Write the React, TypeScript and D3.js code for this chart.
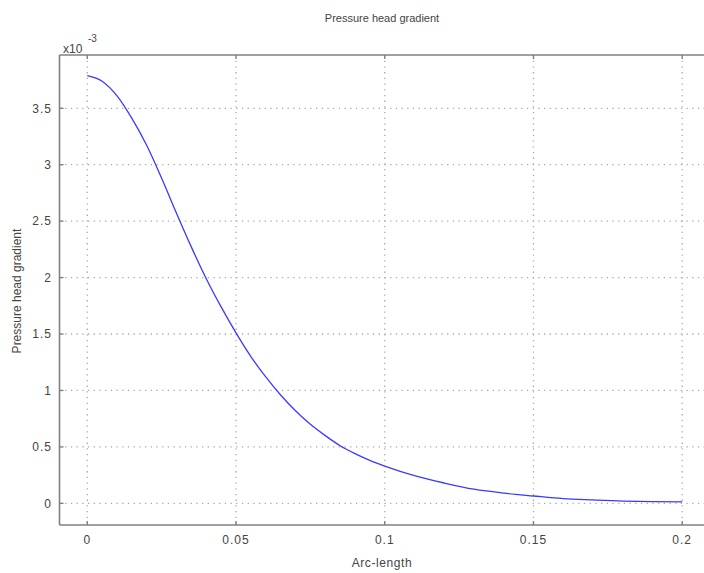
import React from 'react';
import * as d3 from 'd3';

// arc-length samples and pressure head gradient (in units of 1e-3)
const arcLength = [
  0, 0.005, 0.01, 0.015, 0.02, 0.025, 0.03, 0.035, 0.04, 0.045, 0.05,
  0.055, 0.06, 0.065, 0.07, 0.075, 0.08, 0.085, 0.09, 0.095, 0.1,
  0.11, 0.12, 0.13, 0.14, 0.15, 0.16, 0.17, 0.18, 0.19, 0.2,
];
const gradient = [
  3.79, 3.74, 3.61, 3.41, 3.17, 2.88, 2.57, 2.27, 1.99, 1.74, 1.51,
  1.3, 1.12, 0.96, 0.82, 0.7, 0.6, 0.51, 0.44, 0.38, 0.33,
  0.245, 0.18, 0.125, 0.09, 0.065, 0.042, 0.03, 0.02, 0.015, 0.012,
];
const xTicks = [0, 0.05, 0.1, 0.15, 0.2];
const xTickLabels = ['0', '0.05', '0.1', '0.15', '0.2'];
const yTicks = [0, 0.5, 1, 1.5, 2, 2.5, 3, 3.5];
const yTickLabels = ['0', '0.5', '1', '1.5', '2', '2.5', '3', '3.5'];

const W = 704;
const H = 573;
const FONT = "'Liberation Sans', Arial, sans-serif";
const TEXT = '#444';
const AXIS = '#808080';
const GRID = '#aaaaaa';

export default function App() {
  const x = d3.scaleLinear().domain([-0.00934, 0.208]).range([59.5, 706]);
  const y = d3.scaleLinear().domain([-0.192, 3.972]).range([525, 55]);

  const points = arcLength.map((a, i) => [a, gradient[i]] as [number, number]);
  const line = d3
    .line<[number, number]>()
    .x(d => x(d[0]))
    .y(d => y(d[1]))
    .curve(d3.curveMonotoneX);

  const [x0, x1] = x.range();
  const [y0, y1] = y.range();

  return (
    <div style={{ position: 'absolute', left: 0, top: 0 }}>
      <svg width={W} height={H} style={{ display: 'block', background: '#fff' }}>
        <rect width={W} height={H} fill="#fff" />

        {/* grid */}
        {xTicks.map(t => (
          <line key={'gx' + t} x1={x(t)} x2={x(t)} y1={y1} y2={y0}
            stroke={GRID} strokeWidth={1.3} strokeDasharray="1.3,4.4" />
        ))}
        {yTicks.map(t => (
          <line key={'gy' + t} x1={x0} x2={x1} y1={y(t)} y2={y(t)}
            stroke={GRID} strokeWidth={1.3} strokeDasharray="1.3,4.4" />
        ))}

        {/* curve */}
        <path d={line(points) ?? ''} fill="none" stroke="#3a3aff" strokeWidth={1.3} />

        {/* frame */}
        <line x1={x0} x2={x0} y1={y1} y2={y0} stroke={AXIS} strokeWidth={1.6} />
        <line x1={x0} x2={x1} y1={y0} y2={y0} stroke={AXIS} strokeWidth={1.6} />
        <line x1={x0} x2={x1} y1={y1} y2={y1} stroke={AXIS} strokeWidth={1.6} />

        {/* ticks */}
        {xTicks.map(t => (
          <g key={'tx' + t}>
            <line x1={x(t)} x2={x(t)} y1={y0} y2={y0 - 4} stroke={AXIS} strokeWidth={1.4} />
            <line x1={x(t)} x2={x(t)} y1={y1} y2={y1 + 4} stroke={AXIS} strokeWidth={1.4} />
          </g>
        ))}
        {yTicks.map(t => (
          <line key={'ty' + t} x1={x0} x2={x0 + 4} y1={y(t)} y2={y(t)} stroke={AXIS} strokeWidth={1.4} />
        ))}

        {/* tick labels */}
        {xTicks.map((t, i) => (
          <text key={'lx' + t} x={x(t)} y={544} textAnchor="middle"
            fontFamily={FONT} fontSize={12} letterSpacing={1} fill={TEXT}>
            {xTickLabels[i]}
          </text>
        ))}
        {yTicks.map((t, i) => (
          <text key={'ly' + t} x={52} y={y(t)} dy="0.36em" textAnchor="end"
            fontFamily={FONT} fontSize={12} letterSpacing={1} fill={TEXT}>
            {yTickLabels[i]}
          </text>
        ))}

        {/* exponent */}
        <text x={63} y={53} fontFamily={FONT} fontSize={12} fill={TEXT}>x10</text>
        <text x={88} y={42} fontFamily={FONT} fontSize={10} fill={TEXT}>-3</text>

        {/* titles */}
        <text x={382} y={22} textAnchor="middle" fontFamily={FONT} fontSize={11} fill={TEXT}>
          Pressure head gradient
        </text>
        <text x={382} y={567} textAnchor="middle" fontFamily={FONT} fontSize={12} letterSpacing={0.6} fill={TEXT}>
          Arc-length
        </text>
        <text transform="translate(21,291) rotate(-90)" textAnchor="middle"
          fontFamily={FONT} fontSize={12} fill={TEXT}>
          Pressure head gradient
        </text>
      </svg>
    </div>
  );
}
